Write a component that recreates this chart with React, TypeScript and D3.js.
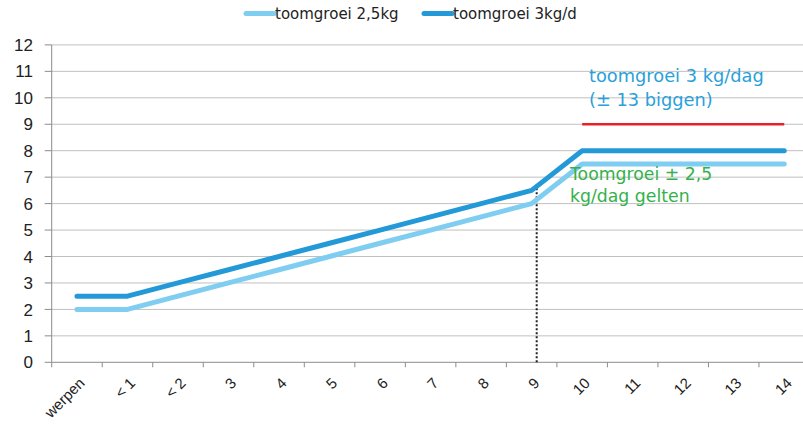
import React from "react";
import * as d3 from "d3";

const categories = ["werpen", "< 1", "< 2", "3", "4", "5", "6", "7", "8", "9", "10", "11", "12", "13", "14"];
const growth25 = [2, 2, 2.5, 3, 3.5, 4, 4.5, 5, 5.5, 6, 7.5, 7.5, 7.5, 7.5, 7.5];
const growth3 = [2.5, 2.5, 3, 3.5, 4, 4.5, 5, 5.5, 6, 6.5, 8, 8, 8, 8, 8];
const target = [null, null, null, null, null, null, null, null, null, null, 9, 9, 9, 9, 9];
const yTicks = [0, 1, 2, 3, 4, 5, 6, 7, 8, 9, 10, 11, 12];
const legendLabels = ["toomgroei 2,5kg", "toomgroei 3kg/d"];
const noteBlue = ["toomgroei 3 kg/dag", "(± 13 biggen)"];
const noteGreen = ["Toomgroei ± 2,5", "kg/dag gelten"];
const divider = { index: 9.1, top: 6.75 };

const W = 803;
const H = 427;
const left = 51.7;
const band = 50.52;
const right = left + band * categories.length;

export default function App() {
  const x = d3.scaleBand<string>().domain(categories).range([left, right]).padding(0);
  const xc = (i: number) => (x(categories[i]) as number) + x.bandwidth() / 2;
  const y = d3.scaleLinear().domain([0, 12]).range([362.3, 44.9]);
  const xPos = d3.scaleLinear().domain([0, categories.length]).range([left, right]);

  const line = d3
    .line<number | null>()
    .defined((d) => d !== null)
    .x((_, i) => xc(i))
    .y((d) => y(d as number));

  const font = "'DejaVu Sans', Verdana, sans-serif";
  const axisFont = "'Liberation Sans', Arial, sans-serif";

  return (
    <svg width={W} height={H} style={{ position: "absolute", left: 0, top: 0, background: "#fff" }}>
      {yTicks.filter((t) => t > 0).map((t) => (
        <line key={"g" + t} x1={left} x2={right} y1={y(t)} y2={y(t)} stroke="#c0c0c0" strokeWidth={1} />
      ))}
      <line x1={left} x2={left} y1={y(12)} y2={y(0)} stroke="#8c8c8c" strokeWidth={1} />
      {yTicks.map((t) => (
        <g key={"y" + t}>
          <line x1={left - 7} x2={left} y1={y(t)} y2={y(t)} stroke="#8c8c8c" strokeWidth={1} />
          <text x={33} y={y(t)} dy="0.36em" textAnchor="end" fontFamily={axisFont} fontSize={17} fill="#222">
            {t}
          </text>
        </g>
      ))}
      <line x1={left} x2={right} y1={y(0)} y2={y(0)} stroke="#8c8c8c" strokeWidth={1} />
      {d3.range(categories.length + 1).map((i) => (
        <line key={"xt" + i} x1={xPos(i)} x2={xPos(i)} y1={y(0)} y2={y(0) + 5} stroke="#8c8c8c" strokeWidth={1} />
      ))}
      {categories.map((c, i) => (
        <text
          key={"xl" + i}
          transform={`translate(${xc(i) + 5},${y(0) + 18}) rotate(-45)`}
          textAnchor="end"
          dy="0.35em"
          fontFamily={axisFont}
          fontSize={15}
          fill="#222"
        >
          {c}
        </text>
      ))}
      <line
        x1={xPos(divider.index + 0.5)}
        x2={xPos(divider.index + 0.5)}
        y1={y(0)}
        y2={y(divider.top)}
        stroke="#222"
        strokeWidth={2}
        strokeDasharray="2,2"
      />
      <path d={line(growth25) || ""} fill="none" stroke="#7fcdf0" strokeWidth={5} strokeLinecap="round" strokeLinejoin="round" />
      <path d={line(growth3) || ""} fill="none" stroke="#2499d7" strokeWidth={5} strokeLinecap="round" strokeLinejoin="round" />
      <path d={line(target) || ""} fill="none" stroke="#e8202a" strokeWidth={2.5} />
      {noteBlue.map((t, i) => (
        <text key={"nb" + i} x={589} y={82 + i * 23.5} fontFamily={font} fontSize={17.8} fill="#2aa0da">
          {t}
        </text>
      ))}
      {noteGreen.map((t, i) => (
        <text key={"ng" + i} x={570} y={180 + i * 22} fontFamily={font} fontSize={17.3} fill="#34b14b">
          {t}
        </text>
      ))}
      {legendLabels.map((t, i) => {
        const lx = i === 0 ? 246 : 424;
        return (
          <g key={"lg" + i}>
            <line x1={lx} x2={lx + 28} y1={13.5} y2={13.5} stroke={i === 0 ? "#7fcdf0" : "#2499d7"} strokeWidth={5} strokeLinecap="round" />
            <text x={lx + 29} y={18.5} fontFamily={font} fontSize={15} fill="#222">
              {t}
            </text>
          </g>
        );
      })}
    </svg>
  );
}
